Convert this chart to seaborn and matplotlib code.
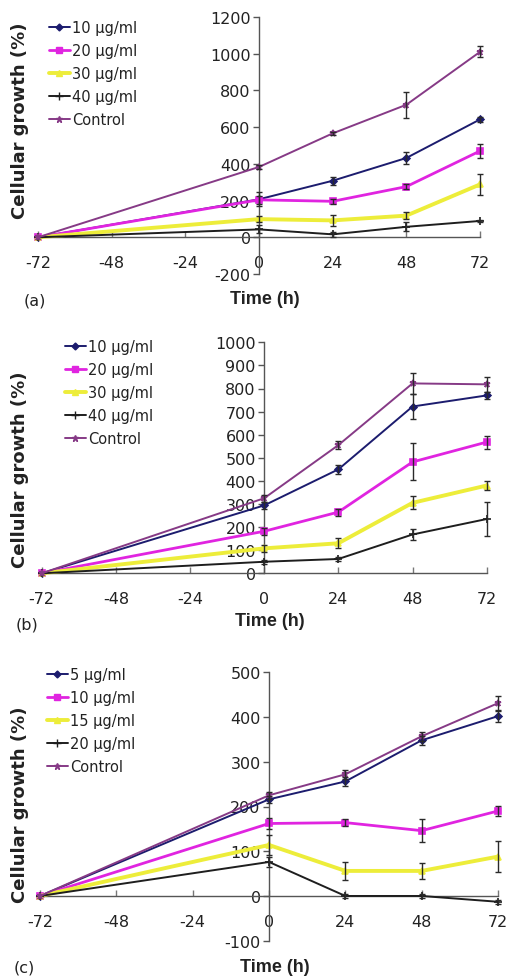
import matplotlib
matplotlib.use("Agg")
import matplotlib.pyplot as plt
import seaborn as sns
import pandas as pd

sns.set_theme(style="white")
plt.rcParams["font.family"] = ["DejaVu Sans"]
plt.rcParams["axes.unicode_minus"] = False

# Sampling times (h)
times = [-72, 0, 24, 48, 72]
xticks = [-72, -48, -24, 0, 24, 48, 72]

# Panel (a)
labels_a = ["10 µg/ml", "20 µg/ml", "30 µg/ml", "40 µg/ml", "Control"]
a_10 = [0, 207, 308, 432, 642]
a_20 = [0, 204, 196, 276, 470]
a_30 = [0, 99, 92, 118, 288]
a_40 = [0, 43, 16, 57, 89]
a_ctrl = [0, 383, 566, 722, 1010]
a_10_err = [0, 38, 22, 35, 12]
a_20_err = [0, 22, 15, 12, 40]
a_30_err = [0, 15, 28, 18, 55]
a_40_err = [0, 22, 12, 25, 6]
a_ctrl_err = [0, 10, 10, 70, 30]

# Panel (b)
labels_b = ["10 µg/ml", "20 µg/ml", "30 µg/ml", "40 µg/ml", "Control"]
b_10 = [0, 294, 450, 722, 770]
b_20 = [0, 182, 265, 482, 568]
b_30 = [0, 108, 130, 305, 380]
b_40 = [0, 50, 62, 168, 235]
b_ctrl = [0, 325, 555, 822, 818]
b_10_err = [0, 15, 18, 55, 15]
b_20_err = [0, 15, 15, 80, 28]
b_30_err = [0, 15, 22, 28, 20]
b_40_err = [0, 8, 8, 22, 75]
b_ctrl_err = [0, 15, 18, 45, 32]

# Panel (c)
labels_c = ["5 µg/ml", "10 µg/ml", "15 µg/ml", "20 µg/ml", "Control"]
c_5 = [0, 216, 256, 348, 402]
c_10 = [0, 162, 164, 146, 190]
c_15 = [0, 114, 56, 56, 88]
c_20 = [0, 76, 0, 0, -13]
c_ctrl = [0, 225, 272, 357, 431]
c_5_err = [0, 8, 10, 10, 12]
c_10_err = [0, 12, 8, 25, 12]
c_15_err = [0, 22, 20, 18, 35]
c_20_err = [0, 12, 5, 5, 5]
c_ctrl_err = [0, 8, 10, 10, 15]

colors = ["#1c1c6e", "#e024e0", "#eded3a", "#1e1e1e", "#863a86"]
markers = ["D", "s", "^", "+", "*"]
widths = [1.4, 2.0, 2.8, 1.4, 1.4]
msizes = [3.5, 5, 5, 6, 5]

panels = [
    dict(labels=labels_a, values=[a_10, a_20, a_30, a_40, a_ctrl],
         errs=[a_10_err, a_20_err, a_30_err, a_40_err, a_ctrl_err],
         ylim=(-200, 1200), step=200, tag="(a)",
         rect=[38, 18, 480, 275], ylab_y=121, legend_xy=(39, 11),
         tag_xy=(24, 301), xlab_y=300),
    dict(labels=labels_b, values=[b_10, b_20, b_30, b_40, b_ctrl],
         errs=[b_10_err, b_20_err, b_30_err, b_40_err, b_ctrl_err],
         ylim=(0, 1000), step=100, tag="(b)",
         rect=[41.7, 343.3, 486.7, 574.3], ylab_y=470, legend_xy=(55, 330),
         tag_xy=(16, 625), xlab_y=621),
    dict(labels=labels_c, values=[c_5, c_10, c_15, c_20, c_ctrl],
         errs=[c_5_err, c_10_err, c_15_err, c_20_err, c_ctrl_err],
         ylim=(-100, 500), step=100, tag="(c)",
         rect=[40, 673.3, 498, 941.7], ylab_y=805, legend_xy=(37, 658),
         tag_xy=(14, 968), xlab_y=968),
]

W, H = 509, 978
fig = plt.figure(figsize=(W / 100, H / 100), dpi=100)

for p in panels:
    x0, y0, x1, y1 = p["rect"]
    ax = fig.add_axes([x0 / W, 1 - y1 / H, (x1 - x0) / W, (y1 - y0) / H])

    for lab, vals, c, m, lw, ms in zip(p["labels"], p["values"], colors, markers, widths, msizes):
        df = pd.DataFrame({"Time": times, "Growth": vals})
        sns.lineplot(data=df, x="Time", y="Growth", color=c, marker=m, ms=ms,
                     mec=c, mfc=c, mew=1.2, lw=lw, ax=ax, clip_on=False, zorder=3)

    for vals, errs in zip(p["values"], p["errs"]):
        ax.errorbar(times[1:], vals[1:], yerr=errs[1:], fmt="none",
                    ecolor="#2a2a2a", elinewidth=1.0, capsize=2.5, capthick=1.0,
                    zorder=4, clip_on=False)

    ax.set_xlim(-72, 72)
    ax.set_ylim(*p["ylim"])
    ax.set_xticks(xticks)
    ax.set_xticklabels([str(t) for t in xticks])
    ax.set_yticks(range(p["ylim"][0], p["ylim"][1] + 1, p["step"]))
    ax.set_xlabel("")
    ax.set_ylabel("")

    for s in ["top", "right"]:
        ax.spines[s].set_visible(False)
    ax.spines["left"].set_position(("data", 0))
    ax.spines["bottom"].set_position(("data", 0))
    for s in ["left", "bottom"]:
        ax.spines[s].set_color("#555555")
        ax.spines[s].set_linewidth(1.0)

    ax.tick_params(axis="y", direction="out", length=4, width=1, color="#555555",
                   labelsize=11.5, labelcolor="#222222", pad=2, left=True)
    ax.tick_params(axis="x", direction="in", length=4, width=1, color="#777777",
                   labelsize=11.5, labelcolor="#222222", pad=13, bottom=True)

    ax.patch.set_alpha(0)

    x_zero_px = x0 + (x1 - x0) / 2
    fig.text(20 / W, 1 - p["ylab_y"] / H, "Cellular growth (%)", rotation=90,
             ha="center", va="center", fontsize=13, fontweight="bold", color="#222222")
    fig.text((x_zero_px + 6) / W, 1 - p["xlab_y"] / H, "Time (h)",
             ha="center", va="center", fontsize=13, fontweight="bold",
             family=["Liberation Sans", "DejaVu Sans"], color="#222222")
    fig.text(p["tag_xy"][0] / W, 1 - p["tag_xy"][1] / H, p["tag"],
             ha="left", va="center", fontsize=11.5, color="#222222")

    handles = [plt.Line2D([], [], color=c, lw=lw, marker=m, ms=ms, mec=c, mfc=c)
               for c, lw, m, ms in zip(colors, widths, markers, msizes)]
    fig.legend(handles, p["labels"], loc="upper left",
               bbox_to_anchor=(p["legend_xy"][0] / W, 1 - p["legend_xy"][1] / H),
               frameon=False, fontsize=10.5, handlelength=1.4, handletextpad=0.15,
               labelspacing=0.55, borderpad=0.2, labelcolor="#222222")

fig.savefig("out.png", dpi=100, facecolor="white")
